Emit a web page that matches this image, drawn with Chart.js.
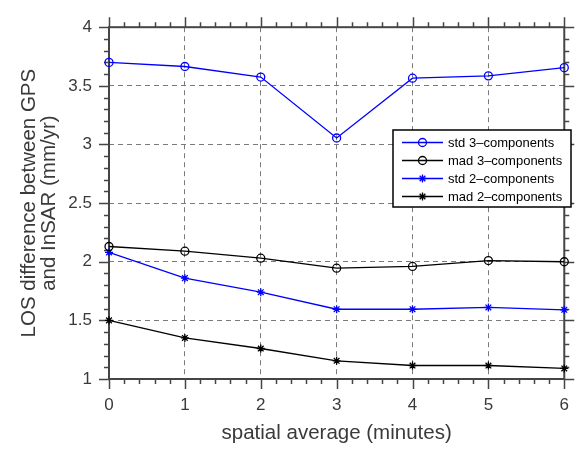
<!DOCTYPE html>
<html>
<head>
<meta charset="utf-8">
<script src="https://cdn.jsdelivr.net/npm/chart.js@4/dist/chart.umd.min.js"></script>
<style>
  html, body { margin: 0; padding: 0; background: #fff; }
  #wrap { width: 585px; height: 450px; }
</style>
</head>
<body>
<div id="wrap"><canvas id="c" width="585" height="450"></canvas></div>
<script>
// ---- data ----
const xValues = [0, 1, 2, 3, 4, 5, 6];
const std3 = [3.70, 3.665, 3.575, 3.055, 3.565, 3.585, 3.655];
const mad3 = [2.13, 2.09, 2.03, 1.945, 1.96, 2.01, 2.00];
const std2 = [2.08, 1.86, 1.74, 1.595, 1.595, 1.61, 1.59];
const mad2 = [1.50, 1.35, 1.26, 1.155, 1.115, 1.115, 1.09];
const seriesNames = ['std 3\u2013components', 'mad 3\u2013components', 'std 2\u2013components', 'mad 2\u2013components'];
const xTickLabels = ['0', '1', '2', '3', '4', '5', '6'];
const yTickLabels = ['1', '1.5', '2', '2.5', '3', '3.5', '4'];
const xTitle = 'spatial average (minutes)';
const yTitle = ['LOS difference between GPS', 'and InSAR (mm/yr)'];

const FONT = "'Liberation Sans', Arial, Helvetica, sans-serif";
const AXIS_COLOR = '#454545';
const TEXT_COLOR = '#3a3a3a';

function pts(arr) { return xValues.map((x, i) => ({ x: x, y: arr[i] })); }

const specs = [
  { data: std3, color: '#0000ff', style: 'circle' },
  { data: mad3, color: '#000000', style: 'circle' },
  { data: std2, color: '#0000ff', style: 'star' },
  { data: mad2, color: '#000000', style: 'star' }
];

const datasets = specs.map((s, i) => ({
  label: seriesNames[i],
  data: pts(s.data),
  borderColor: s.color,
  backgroundColor: 'rgba(0,0,0,0)',
  borderWidth: 1.3,
  pointStyle: s.style,
  pointRadius: 4,
  pointBorderColor: s.color,
  pointBackgroundColor: 'rgba(0,0,0,0)',
  pointBorderWidth: 1.3,
  tension: 0,
  clip: false
}));

// box with outward ticks on all four sides
const boxPlugin = {
  id: 'box',
  beforeDatasetsDraw(chart) {
    const { ctx, chartArea: a, scales: { x, y } } = chart;
    ctx.save();
    ctx.strokeStyle = AXIS_COLOR;
    ctx.lineWidth = 1.5;
    ctx.beginPath();
    for (let i = 0; i <= 30; i++) {
      const v = i * 0.2;
      const len = (i % 5 === 0) ? 10 : 5;
      const px = Math.round(x.getPixelForValue(v)) + 0.5;
      ctx.moveTo(px, a.top); ctx.lineTo(px, a.top - len);
      ctx.moveTo(px, a.bottom); ctx.lineTo(px, a.bottom + len);
    }
    for (let i = 10; i <= 40; i++) {
      const v = i * 0.1;
      const len = (i % 5 === 0) ? 10 : 5;
      const py = Math.round(y.getPixelForValue(v)) + 0.5;
      ctx.moveTo(a.left, py); ctx.lineTo(a.left - len, py);
      ctx.moveTo(a.right, py); ctx.lineTo(a.right + len, py);
    }
    ctx.stroke();
    ctx.lineWidth = 2;
    ctx.strokeRect(a.left, a.top, a.right - a.left, a.bottom - a.top);
    ctx.restore();
  }
};

function drawMarker(ctx, style, cx, cy, r) {
  ctx.beginPath();
  if (style === 'circle') {
    ctx.arc(cx, cy, r, 0, Math.PI * 2);
  } else {
    for (let k = 0; k < 4; k++) {
      const ang = k * Math.PI / 4;
      const dx = Math.cos(ang) * r, dy = Math.sin(ang) * r;
      ctx.moveTo(cx - dx, cy - dy); ctx.lineTo(cx + dx, cy + dy);
    }
  }
  ctx.stroke();
}

const legendPlugin = {
  id: 'boxLegend',
  afterDraw(chart) {
    const { ctx } = chart;
    const bx = 393, by = 130, bw = 178, bh = 77;
    ctx.save();
    ctx.fillStyle = '#ffffff';
    ctx.fillRect(bx, by, bw, bh);
    ctx.strokeStyle = '#000';
    ctx.lineWidth = 1.5;
    ctx.strokeRect(bx, by, bw, bh);
    ctx.font = '13px ' + FONT;
    ctx.textBaseline = 'middle';
    ctx.textAlign = 'left';
    chart.data.datasets.forEach((ds, i) => {
      const cy = by + 12.5 + i * 18;
      ctx.strokeStyle = ds.borderColor;
      ctx.lineWidth = 1.3;
      ctx.beginPath();
      ctx.moveTo(402, cy); ctx.lineTo(443, cy);
      ctx.stroke();
      drawMarker(ctx, ds.pointStyle, 422.5, cy, 4);
      ctx.fillStyle = '#000';
      ctx.fillText(ds.label, 448, cy + 0.5);
    });
    ctx.restore();
  }
};

new Chart(document.getElementById('c'), {
  type: 'line',
  data: { datasets: datasets },
  options: {
    responsive: false,
    animation: false,
    devicePixelRatio: 1,
    layout: { padding: { top: 11, right: 8, left: 0, bottom: 0 } },
    plugins: { legend: { display: false }, tooltip: { enabled: false } },
    scales: {
      x: {
        type: 'linear', min: 0, max: 6,
        afterFit(s) { s.height = 71; },
        ticks: {
          stepSize: 1, padding: 16, color: TEXT_COLOR,
          font: { family: FONT, size: 17 },
          callback: (v) => xTickLabels[xValues.indexOf(v)] ?? ''
        },
        grid: { color: '#7a7a7a', lineWidth: 1, drawTicks: false },
        border: { display: false, dash: [5, 4] },
        title: {
          display: true, text: xTitle, color: TEXT_COLOR,
          font: { family: FONT, size: 20.5, lineHeight: 1.2 },
          padding: { top: 0, bottom: 4 }
        }
      },
      y: {
        type: 'linear', min: 1, max: 4,
        afterFit(s) { s.width = 109; },
        ticks: {
          stepSize: 0.5, padding: 17, color: TEXT_COLOR,
          font: { family: FONT, size: 17 },
          callback: (v) => { const i = Math.round((v - 1) * 2); return (Math.abs((v - 1) * 2 - i) < 1e-6) ? yTickLabels[i] : ''; }
        },
        grid: { color: '#7a7a7a', lineWidth: 1, drawTicks: false },
        border: { display: false, dash: [5, 4] },
        title: {
          display: true, text: yTitle, color: TEXT_COLOR,
          font: { family: FONT, size: 20.5, lineHeight: 0.95 },
          padding: { top: 20, bottom: 0 }
        }
      }
    }
  },
  plugins: [boxPlugin, legendPlugin]
});
</script>
</body>
</html>
